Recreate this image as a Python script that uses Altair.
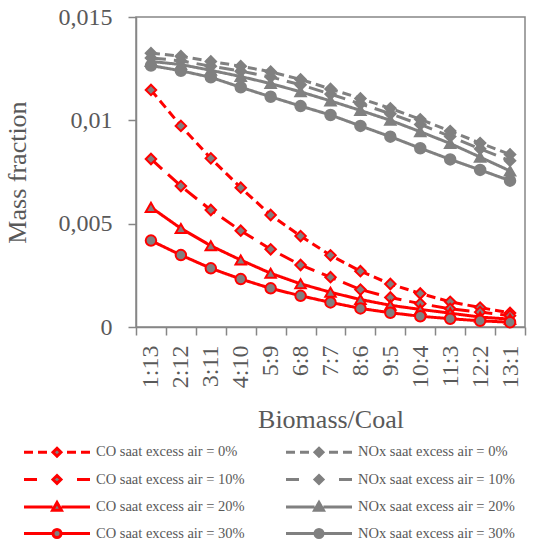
import altair as alt
import pandas as pd

ratios = ["1:13", "2:12", "3:11", "4:10", "5:9", "6:8", "7:7", "8:6", "9:5", "10:4", "11:3", "12:2", "13:1"]

co_0 = [0.01147, 0.00973, 0.00816, 0.00674, 0.00542, 0.0044, 0.00347, 0.0027, 0.00208, 0.00162, 0.00122, 0.00094, 0.00068]
co_10 = [0.00813, 0.00682, 0.00566, 0.00466, 0.00376, 0.003, 0.00241, 0.00181, 0.00143, 0.00113, 0.00088, 0.00072, 0.00055]
co_20 = [0.00579, 0.00477, 0.00393, 0.00324, 0.0026, 0.00209, 0.00168, 0.00133, 0.00105, 0.00085, 0.00067, 0.00048, 0.00038]
co_30 = [0.00418, 0.00348, 0.00284, 0.00232, 0.00187, 0.00151, 0.00119, 0.0009, 0.00069, 0.00052, 0.0004, 0.0003, 0.00023]

nox_0 = [0.01325, 0.0131, 0.01285, 0.01262, 0.01235, 0.01198, 0.01152, 0.01106, 0.01058, 0.01005, 0.00948, 0.0089, 0.00835]
nox_10 = [0.01302, 0.01288, 0.01262, 0.01238, 0.0121, 0.01172, 0.01127, 0.0108, 0.01032, 0.0098, 0.00922, 0.00862, 0.00805]
nox_20 = [0.01285, 0.0127, 0.01242, 0.01212, 0.01178, 0.01138, 0.01094, 0.01048, 0.01, 0.00945, 0.00888, 0.00822, 0.00755]
nox_30 = [0.01265, 0.0124, 0.01208, 0.0116, 0.01114, 0.01069, 0.01026, 0.00973, 0.00921, 0.00865, 0.00811, 0.0076, 0.00708]

series_order = [
    "CO saat excess air = 0%", "CO saat excess air = 10%",
    "CO saat excess air = 20%", "CO saat excess air = 30%",
    "NOx saat excess air = 0%", "NOx saat excess air = 10%",
    "NOx saat excess air = 20%", "NOx saat excess air = 30%",
]
series_values = [co_0, co_10, co_20, co_30, nox_0, nox_10, nox_20, nox_30]

df = pd.DataFrame(
    [{"series": s, "ratio": r, "value": v}
     for s, vals in zip(series_order, series_values)
     for r, v in zip(ratios, vals)]
)

RED = "#FF0000"
GREY = "#808080"
AXIS = "#868686"
TEXT = "#595959"
FONT = "Liberation Serif"

stroke_range = [RED] * 4 + [GREY] * 4
dash_range = [[9, 5], [15, 8], [1, 0], [1, 0]] * 2
shape_range = ["diamond", "diamond", "triangle-up", "circle"] * 2
size_range = [110, 110, 150, 150] * 2

# legend symbols: line (with its dash pattern drawn as segments) + marker
dash0 = "M-4.125,0H-3M-2.375,0H-1.25M1.25,0H2.375M3,0H4.125"
dash10 = "M-4.125,0H-2.5M2.5,0H4.125"
solid = "M-4.125,0H-0.55M0.55,0H4.125"
diamond = "M0,-0.5L0.5,0L0,0.5L-0.5,0Z"
triangle = "M0,-0.55L0.55,0.4L-0.55,0.4Z"
circle = "M-0.5,0A0.5,0.5,0,1,1,0.5,0A0.5,0.5,0,1,1,-0.5,0Z"
legend_paths = [dash0 + diamond, dash10 + diamond, solid + triangle, solid + circle] * 2

x = alt.X(
    "ratio:N", sort=ratios, title="Biomass/Coal", bandPosition=0.5,
    scale=alt.Scale(type="band", paddingInner=0, paddingOuter=0),
    axis=alt.Axis(
        labelAngle=-90, tickBand="extent", labelPadding=10,
        labelFont=FONT, labelFontSize=24, labelColor=TEXT,
        titleFont=FONT, titleFontSize=26, titleFontWeight="normal", titleColor=TEXT,
        titlePadding=19,
        domainColor=AXIS, domainWidth=1.5, tickColor=AXIS, tickWidth=1.5, tickSize=8,
    ),
)
y = alt.Y(
    "value:Q", title="Mass fraction",
    scale=alt.Scale(domain=[0, 0.015], nice=False),
    axis=alt.Axis(
        values=[0, 0.005, 0.01, 0.015], grid=False,
        labelExpr="replace(format(datum.value, '~g'), '.', ',')",
        labelFont=FONT, labelFontSize=24, labelColor=TEXT, labelPadding=16,
        titleFont=FONT, titleFontSize=26, titleFontWeight="normal", titleColor=TEXT,
        titlePadding=28,
        domainColor=AXIS, domainWidth=1.5, tickColor=AXIS, tickWidth=1.5, tickSize=8,
    ),
)

stroke_scale = alt.Scale(domain=series_order, range=stroke_range)

base = alt.Chart(df).encode(x=x, y=y)

lines = base.mark_line(strokeWidth=3).encode(
    stroke=alt.Stroke("series:N", scale=stroke_scale, legend=None),
    strokeDash=alt.StrokeDash("series:N", scale=alt.Scale(domain=series_order, range=dash_range), legend=None),
)

points = base.mark_point(filled=True, fill=GREY, strokeWidth=2, opacity=1).encode(
    stroke=alt.Stroke("series:N", scale=stroke_scale, legend=None),
    shape=alt.Shape("series:N", scale=alt.Scale(domain=series_order, range=shape_range), legend=None),
    size=alt.Size("series:N", scale=alt.Scale(domain=series_order, range=size_range), legend=None),
)

leg = alt.Legend(
    title=None, orient="none", legendX=-112.5, legendY=425.5, columns=2,
    symbolSize=256, symbolStrokeWidth=3, symbolOffset=24, labelOffset=29.5,
    labelFont=FONT, labelFontSize=14.5, labelColor=TEXT, labelLimit=0,
    columnPadding=34, rowPadding=6.5, padding=0, symbolFillColor=GREY,
)

legend_layer = base.transform_filter("false").mark_point(
    filled=True, fill=GREY, strokeWidth=3, opacity=1
).encode(
    stroke=alt.Stroke("series:N", scale=stroke_scale, legend=leg),
    shape=alt.Shape("series:N", scale=alt.Scale(domain=series_order, range=legend_paths), legend=leg),
)

chart = alt.layer(lines, points, legend_layer).resolve_scale(
    stroke="independent", shape="independent"
).properties(
    width=389, height=310,
    autosize=alt.AutoSizeParams(type="none"),
    padding={"left": 136, "top": 17, "right": 35, "bottom": 219},
).configure_view(stroke=AXIS, strokeWidth=1.5)

chart.save("out.html", embed_options={"renderer": "svg", "actions": False})
